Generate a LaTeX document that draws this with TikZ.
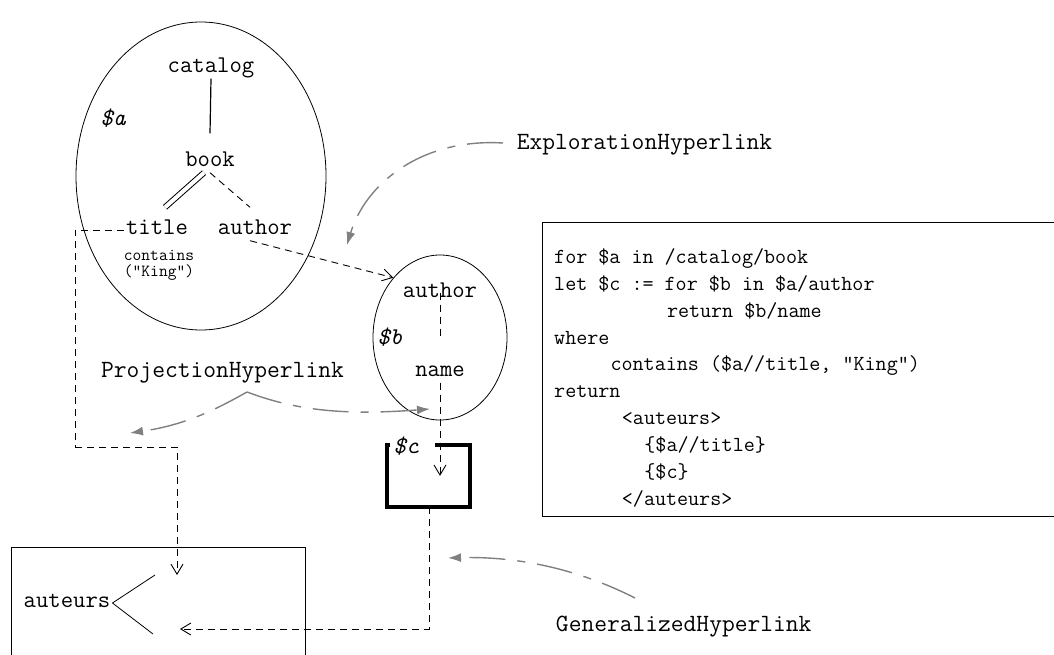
\documentclass[tikz,border=0pt]{standalone}
\usepackage{fontspec}
\usetikzlibrary{arrows.meta,shapes.geometric}
\definecolor{hgray}{HTML}{808080}
\begin{document}
\begin{tikzpicture}[x=1pt,y=-1pt,
  lbl/.style={font=\ttfamily\fontsize{24}{26}\selectfont, text height=13pt, text depth=4pt, inner sep=2pt},
  var/.style={font=\ttfamily\itshape\fontsize{24}{26}\selectfont, inner sep=1pt},
  small/.style={font=\ttfamily\fontsize{17}{16}\selectfont, inner sep=0pt, align=center},
  codeline/.style={font=\ttfamily\fontsize{21.45}{24}\selectfont, anchor=base west, inner sep=0pt},
  hl/.style={font=\ttfamily\fontsize{24.8}{27}\selectfont, inner sep=2pt},
  dsh/.style={dash pattern=on 7pt off 5pt, line width=0.9pt},
  openarr/.style={-{Straight Barb[length=10pt,width=12pt]}},
  garrow/.style={draw=hgray, line width=1.4pt, dash pattern=on 36pt off 12pt on 8pt off 12pt, -{Latex[length=13pt,width=9pt]}},
  oval/.style={draw, ellipse, inner sep=0pt, line width=0.8pt}
]
\useasboundingbox (0,0) rectangle (1054,655);

% ---- ellipse $a
\node[oval, minimum width=250pt, minimum height=308pt] (eA) at (201,176) {};
\node[lbl] (catalog) at (211,68) {catalog};
\node[lbl] (book) at (210,162) {book};
\node[lbl] (title) at (157,230) {title};
\node[lbl] (authorA) at (255,230) {author};
\node[small] (contains) at (159,265) {contains\\("King")};
\node[var] (va) at (113,118) {\$a};

\draw[line width=1.2pt] (catalog.south) -- ([yshift=18pt]book.north);
\draw[double, line width=1pt, double distance=4pt] ([xshift=-6pt]book.south) -- ([xshift=8pt,yshift=12pt]title.north);
\draw[dsh] (book.south) -- ([xshift=-5pt,yshift=12pt]authorA.north);

% ---- ellipse $b
\node[oval, minimum width=134pt, minimum height=165pt] (eB) at (440,337.5) {};
\node[lbl] (authorB) at (440,293) {author};
\node[lbl] (name) at (440,372) {name};
\node[var] (vb) at (390,337) {\$b};
\draw[dsh] (authorB.south) ++(0,-11) -- ([yshift=23pt]name.north);

% ---- $c box
\node[minimum width=83.3pt, minimum height=61.7pt, inner sep=0pt] (cbox) at (428.35,475.85) {};
\draw[line width=4pt] ([xshift=3.5pt]cbox.north west) -- (cbox.north west) -- (cbox.south west) -- (cbox.south east) -- (cbox.north east) -- ([xshift=-35pt]cbox.north east);
\node[var] (vc) at (406,446) {\$c};

% ---- auteurs box
\draw[line width=0.8pt] (11.5,660) -- (11.5,547) -- (305.5,547) -- (305.5,660);
\node[lbl] (auteurs) at (67,603) {auteurs};
\coordinate (f1) at (155,575);
\coordinate (f2) at (153,634);
\draw[line width=0.8pt] (auteurs.east) -- (f1);
\draw[line width=0.8pt] (auteurs.east) -- (f2);
\coordinate (slot1) at (177,575);
\coordinate (slot2) at (180,629);

% ---- code box
\draw[line width=0.8pt] (1060,222) -- (542,222) -- (542,516) -- (1060,516);
\node[codeline] (c0) at (554,263.5) {for \$a in /catalog/book};
\node[codeline] (c1) at (554,290.35) {let \$c := for \$b in \$a/author};
\node[codeline] (c2) at (666.8,317.2) {return \$b/name};
\node[codeline] (c3) at (554,344.05) {where};
\node[codeline] (c4) at (610.4,370.9) {contains (\$a//title, "King")};
\node[codeline] (c5) at (554,397.75) {return};
\node[codeline] (c6) at (621.7,424.6) {<auteurs>};
\node[codeline] (c7) at (644.2,451.45) {\{\$a//title\}};
\node[codeline] (c8) at (644.2,478.3) {\{\$c\}};
\node[codeline] (c9) at (621.7,505.15) {</auteurs>};

% ---- black dashed connectors
\coordinate (p1) at (75,447);
\draw[dsh] (title.west) -| (p1);
\draw[dsh, openarr] (p1) -| (slot1);
\draw[dsh, openarr] ([xshift=-5pt]authorA.south) -- (eB.128);
\draw[dsh, openarr] (name.south) -- (name.south |- cbox.center);
\draw[dsh, openarr] ([xshift=0.65pt]cbox.south) |- (slot2);

% ---- hyperlink labels
\node[hl] (explo) at (644.5,145) {ExplorationHyperlink};
\node[hl] (proj) at (222.5,373) {ProjectionHyperlink};
\node[hl] (gen) at (683.7,627) {GeneralizedHyperlink};

\coordinate (ex0) at (503,143);
\coordinate (ex1) at (347,245);
\draw[garrow] (ex0) .. controls (420,138) and (365,185) .. (ex1);

\coordinate (apex) at (247,392);
\coordinate (pl) at (130,433);
\coordinate (pr) at (430,409);
\draw[garrow] (apex) .. controls (215,410) and (185,425) .. (pl);
\draw[garrow] (apex) .. controls (300,412) and (350,415) .. (pr);

\coordinate (g0) at (635,598);
\coordinate (g1) at (448,558);
\draw[garrow] (g0) .. controls (580,570) and (520,556) .. (g1);
\end{tikzpicture}
\end{document}
